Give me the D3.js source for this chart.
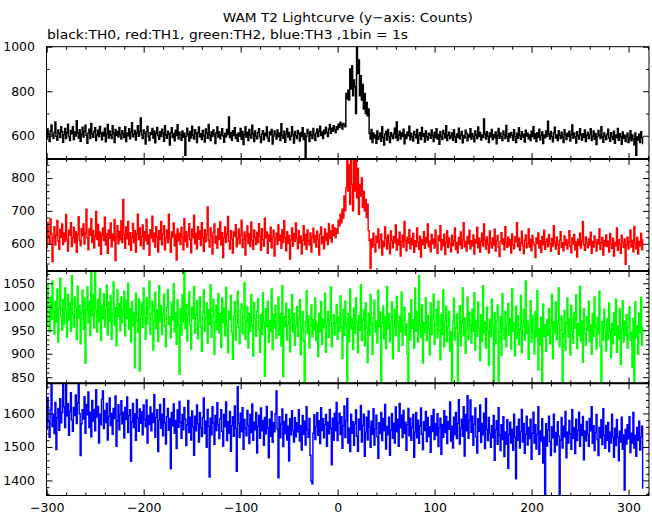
<!DOCTYPE html>
<html><head><meta charset="utf-8">
<script src="https://cdn.jsdelivr.net/npm/d3@7"></script>
<style>
body{margin:0;background:#fff}
svg{display:block;background:#fff}
</style>
</head><body><svg id="chart" width="652" height="515"></svg>
<script>
// ---- data (1 s bins, first bin at t = -300 s) ----
const xStart = -300;
const th0 = [585,630,607,574,621,648,603,589,615,662,597,580,626,611,592,640,618,571,
605,633,587,614,652,596,578,624,609,641,583,617,599,668,612,590,627,575,606,638,
594,620,647,601,566,613,629,588,655,608,593,619,636,579,604,625,597,642,611,582,
616,599,634,573,608,651,590,621,603,587,645,612,570,628,601,619,594,637,606,585,
623,609,592,640,574,613,600,631,586,617,659,595,607,624,581,613,645,598,620,680,
604,588,626,611,563,619,642,597,578,615,606,633,590,622,568,610,637,601,584,618,
596,629,612,575,645,603,589,620,607,558,614,636,592,610,577,625,601,649,586,616,
604,580,622,593,611,512,598,634,607,576,619,590,643,602,585,627,611,570,615,639,
595,609,583,624,600,572,630,613,589,651,604,578,618,597,626,607,565,612,639,594,
617,586,603,632,599,571,611,595,628,606,684,592,614,580,623,601,636,588,607,575,
612,598,633,584,619,561,605,640,593,616,579,628,603,590,647,609,574,621,598,586,
614,631,595,569,608,623,582,611,600,639,590,575,617,604,628,563,599,621,608,585,
626,596,612,578,654,601,589,620,571,607,633,594,615,582,598,641,606,567,619,600,
587,624,609,576,615,596,636,583,610,503,597,628,612,574,619,601,588,633,605,579,
612,630,596,620,643,601,617,588,625,609,638,614,597,629,651,611,634,620,645,626,
615,640,628,652,637,661,648,630,655,650,640,790,765,805,760,900,810,915,780,850,
820,700,1000,880,940,780,870,760,830,720,790,700,750,690,720,610,585,628,570,612,
590,603,566,621,584,597,612,575,640,593,558,607,619,581,628,596,570,614,600,587,
609,634,591,662,578,603,620,585,612,597,629,564,606,588,617,600,643,582,611,594,
576,619,605,590,628,566,601,614,583,637,598,609,572,622,595,581,611,603,589,626,
600,574,615,592,631,585,606,562,618,597,583,624,609,590,645,578,602,616,587,599,
612,580,627,595,571,608,593,634,586,603,619,568,601,590,625,611,577,606,594,632,
584,610,597,573,621,602,588,639,596,615,581,604,592,675,607,585,618,598,570,612,
595,628,583,606,591,617,564,600,633,589,612,596,578,621,604,587,646,598,575,610,
592,615,603,580,627,596,569,611,589,636,601,584,618,594,607,572,625,599,611,586,
603,578,620,597,641,588,609,574,614,593,629,582,600,617,565,604,591,622,598,665,
607,585,619,596,573,612,638,590,604,579,623,601,588,616,594,570,627,603,583,611,
597,620,576,606,648,589,613,595,567,618,600,585,631,604,580,609,592,626,574,602,
615,588,605,632,579,598,621,584,610,561,596,624,603,587,640,594,571,612,599,583,
606,629,590,575,614,597,583,620,566,604,591,633,580,609,595,562,617,588,602,574,
598,611,569,590,623,577,603,585,560,612,512,594,581,607,570,618,592,565];

const th1 = [588,665,623,600,676,631,545,618,652,596,627,671,609,583,644,620,660,598,
633,607,689,615,578,641,626,664,592,619,650,603,637,574,628,682,611,595,646,624,
660,599,631,705,617,582,645,626,676,604,640,587,622,698,613,659,594,636,568,627,
648,610,681,596,630,571,642,617,663,591,629,610,674,549,621,655,600,638,612,670,
604,735,628,586,651,615,668,597,634,580,620,662,603,640,575,629,690,612,648,595,
622,657,584,637,610,675,599,627,565,643,618,684,606,633,590,652,621,575,640,613,
668,597,629,655,582,618,642,603,690,615,574,636,620,663,594,628,551,645,609,632,
598,650,621,582,676,607,637,590,625,661,612,573,644,618,687,600,631,585,652,614,
639,595,664,620,577,643,606,628,712,611,590,648,624,569,635,660,602,622,587,646,
613,667,596,634,558,619,651,604,629,683,608,584,640,615,572,637,622,658,591,616,
645,600,627,672,589,613,636,566,624,654,601,630,592,666,610,583,642,619,598,635,
604,661,623,580,646,612,593,678,618,636,571,627,608,650,588,620,641,563,615,632,
598,657,611,626,586,643,604,670,619,579,637,601,625,554,612,648,593,631,608,663,
616,585,640,602,624,569,611,655,597,628,583,642,610,596,633,575,619,647,604,625,
590,638,613,566,629,651,600,622,585,645,610,632,598,661,617,640,605,657,626,648,
618,645,632,672,655,690,664,705,678,745,700,770,860,760,840,720,860,780,700,860,
760,860,740,830,690,780,745,800,710,760,700,735,680,720,640,610,525,615,590,632,
598,575,623,604,645,587,612,630,566,608,592,651,617,584,627,601,570,639,610,588,
622,603,657,581,614,596,635,563,607,626,590,668,611,579,620,602,643,585,616,597,
631,574,609,592,648,605,583,623,560,612,598,637,586,619,603,660,591,608,576,628,
600,615,587,642,596,571,624,609,655,582,613,594,629,567,605,640,589,618,601,576,
626,595,610,648,583,604,573,619,597,636,586,612,664,591,607,578,622,600,641,585,
609,594,627,569,613,602,650,588,617,575,606,632,593,660,611,584,621,598,572,639,
603,587,618,596,644,578,610,625,590,561,607,634,599,615,582,652,604,589,620,595,
612,572,630,597,585,621,606,664,592,617,580,603,638,595,570,611,627,588,601,645,
590,614,579,625,604,596,558,618,601,633,587,609,574,622,597,641,583,606,615,591,
628,600,577,616,593,655,605,584,620,598,568,611,637,589,603,579,624,596,612,585,
603,640,592,573,618,599,628,582,606,560,614,595,632,587,609,668,597,580,621,602,
588,615,596,635,571,607,590,624,604,578,612,599,645,583,603,619,566,610,594,627,
592,608,575,631,600,586,617,563,604,594,648,580,612,598,571,626,603,589,615,538,
597,620,584,606,642,590,611,576,653,600,585,619,569,607,594,631,582,612];

const th2 = [958,1048,1001,947,1020,973,1055,990,942,1012,968,1038,925,996,1061,979,950,1015,
962,1040,993,935,1026,971,1009,948,1066,984,957,1021,999,930,1044,976,1003,921,988,1035,
952,1018,880,994,1042,966,1012,939,1080,981,1027,955,1080,992,946,1016,968,1039,928,1004,
975,1028,957,995,1046,940,1010,969,1024,931,987,1053,961,998,917,1036,979,1007,949,1021,
966,992,1033,938,1014,975,1050,952,996,925,1011,960,988,870,1029,971,945,1017,863,983,
1008,956,1040,977,931,1019,964,997,1055,942,985,1012,908,970,1031,953,994,926,1045,968,
1002,941,983,1027,959,915,998,1037,962,979,934,1010,972,1049,947,988,920,1015,961,856,
996,940,1025,968,1080,953,1005,927,984,1032,961,910,999,975,1043,944,982,1013,932,970,
1021,957,905,989,1036,948,976,1008,923,993,962,1047,935,980,1016,899,967,1003,951,1028,
944,985,913,1019,966,997,938,1041,959,902,991,973,1024,946,888,980,1011,929,965,1033,
957,921,994,1006,943,978,1052,931,969,1000,912,985,948,1026,960,895,1009,974,937,990,
1017,952,903,983,941,1030,966,852,996,958,1012,925,971,947,1038,909,984,955,1003,933,
968,1021,940,986,917,1045,851,979,958,1007,929,962,995,904,973,1026,946,985,918,961,
1000,937,975,1015,898,955,990,927,838,968,1034,944,981,912,960,1004,936,973,951,1019,
928,965,894,986,947,1011,920,974,956,1029,903,962,990,935,971,1042,915,958,983,940,
966,1005,931,978,948,1023,957,890,994,939,1012,962,838,985,926,1038,953,975,909,997,
944,1019,967,902,981,950,1047,928,972,993,917,1008,955,881,986,940,1026,963,899,977,
1014,946,970,923,1035,958,989,836,965,1001,932,979,911,1043,952,984,926,968,1010,890,
957,995,938,1022,963,905,980,947,1031,918,971,999,940,964,900,838,986,929,1015,954,
973,912,1040,948,990,925,1066,961,935,1004,880,967,945,1019,928,982,953,898,1008,941,
975,1027,920,961,994,934,1012,950,887,983,942,1036,915,969,1001,926,958,990,906,947,
836,970,1018,929,955,984,838,943,1002,917,965,1040,938,976,901,952,1021,931,988,960,
923,995,948,1030,908,971,937,1010,955,885,983,926,1045,944,967,912,999,950,876,973,
936,1016,958,836,988,921,969,1004,838,947,979,896,1028,953,931,990,915,962,1007,940,
975,910,1038,948,966,895,1001,933,981,919,952,1024,902,960,994,929,1055,943,971,888,
958,1013,925,982,946,900,990,936,1034,866,954,918,978,836,1006,937,962,905,973,940,
996,921,958,1027,890,969,944,1010,930,963,1040,915,951,980,836,942,992,908,965,1019,
935,975,897,1003,948,922,988,954,1025,911,964,938,1044,927,970,882,996,943,918,979,
950,1012,926,961,899,985,937,1021,958,910,977,944,1033,917,838,968,929,995,952,906,
974,930,1008,947,892,965,921,988,940,1016,903,959,932,996,877,951,1013,925,969,938,
983,912,956,1000,928,946,871,975,838,1011,934,960,899,987,944,1020,918,957];

const th3 = [1553,1648,1576,1529,1612,1688,1561,1598,1540,1633,1492,1587,1615,1550,1644,1572,1603,1688,
1620,1558,1688,1592,1629,1535,1606,1662,1580,1547,1618,1594,1655,1570,1632,1688,1599,1474,1569,1611,
1583,1650,1541,1627,1596,1664,1558,1604,1530,1639,1577,1612,1548,1671,1589,1621,1512,1598,1566,1642,
1667,1555,1609,1573,1630,1521,1591,1646,1564,1600,1538,1615,1585,1652,1502,1578,1626,1551,1597,1638,
1569,1604,1527,1618,1582,1649,1543,1593,1611,1457,1575,1630,1558,1599,1520,1642,1586,1547,1613,1571,
1605,1536,1625,1582,1560,1640,1512,1594,1567,1619,1548,1601,1573,1656,1529,1588,1611,1486,1580,1627,
1556,1598,1533,1644,1572,1509,1590,1615,1550,1585,1435,1603,1563,1628,1541,1579,1495,1610,1559,1636,
1574,1526,1597,1551,1618,1583,1504,1566,1639,1543,1589,1521,1607,1560,1475,1592,1548,1625,1569,1515,
1603,1557,1531,1588,1646,1540,1577,1499,1612,1562,1410,1586,1536,1620,1571,1508,1594,1549,1632,1566,
1525,1584,1611,1547,1503,1598,1560,1634,1519,1575,1541,1606,1487,1563,1590,1532,1622,1555,1427,1680,
1570,1528,1601,1546,1617,1493,1582,1556,1533,1609,1564,1510,1597,1543,1628,1520,1574,1551,1603,1482,
1561,1595,1526,1616,1548,1579,1505,1588,1539,1621,1557,1468,1583,1532,1606,1514,1572,1545,1599,1667,
1554,1408,1590,1527,1568,1613,1501,1576,1540,1597,1521,1562,1458,1584,1536,1608,1549,1515,1587,1530,
1572,1545,1611,1518,1563,1491,1594,1538,1577,1506,1620,1552,1529,1585,1475,1398,1390,1541,1596,1522,
1560,1602,1535,1578,1510,1617,1549,1584,1527,1566,1597,1502,1574,1539,1612,1555,1447,1586,1520,1601,
1548,1633,1519,1572,1601,1537,1590,1496,1563,1622,1528,1579,1645,1512,1556,1486,1598,1541,1575,1505,
1569,1610,1532,1487,1583,1551,1624,1515,1565,1598,1472,1543,1589,1521,1607,1560,1499,1577,1538,1614,
1506,1554,1595,1530,1466,1572,1540,1603,1519,1585,1548,1627,1494,1561,1536,1589,1475,1550,1599,1526,
1571,1512,1619,1545,1583,1502,1630,1557,1595,1528,1609,1541,1574,1490,1566,1615,1533,1586,1520,1558,
1597,1469,1544,1603,1527,1580,1511,1563,1616,1538,1492,1575,1549,1606,1516,1588,1531,1560,1484,1593,
1546,1612,1522,1570,1535,1599,1501,1557,1586,1478,1567,1529,1608,1543,1591,1510,1576,1553,1634,1518,
1562,1497,1589,1537,1603,1525,1571,1641,1509,1556,1583,1532,1620,1473,1597,1548,1653,1526,1579,1640,
1544,1592,1505,1568,1616,1530,1482,1584,1547,1625,1513,1570,1536,1601,1495,1645,1552,1519,1588,1541,
1499,1563,1527,1594,1460,1551,1578,1508,1617,1535,1489,1566,1522,1590,1471,1545,1508,1581,1436,1537,
1574,1512,1553,1490,1598,1529,1405,1561,1520,1583,1497,1546,1612,1515,1570,1481,1539,1592,1506,1558,
1525,1583,1463,1541,1604,1512,1566,1494,1537,1620,1478,1548,1518,1584,1452,1530,1356,1569,1503,1551,
1592,1516,1474,1560,1527,1598,1485,1543,1506,1575,1533,1356,1521,1588,1497,1562,1530,1606,1468,1545,
1512,1579,1538,1493,1611,1526,1557,1480,1583,1519,1549,1604,1502,1567,1534,1591,1462,1548,1518,1576,
1536,1502,1585,1548,1620,1511,1563,1489,1543,1597,1522,1474,1558,1527,1581,1507,1614,1535,1496,1564,
1520,1573,1486,1545,1512,1598,1530,1469,1556,1504,1582,1528,1459,1547,1515,1589,1493,1536,1371,1552,
1509,1566,1524,1590,1483,1541,1512,1603,1497,1535,1472,1558,1520,1577,1491,1530,1562,1377];

const seriesNames = ["TH0", "TH1", "TH2", "TH3"];
const seriesColors = ["#000000", "#ff0000", "#00ff00", "#0000ff"];
const titleText = "WAM T2 Lightcurve (y\u2212axis: Counts)";
const subtitleText = "black:TH0, red:TH1, green:TH2, blue:TH3 ,1bin = 1s";
const xDomain = [-300.2, 321.1];
const xMajorTicks = [-300, -200, -100, 0, 100, 200, 300];
const yDomains = [[496, 1000], [517, 858], [837, 1076], [1355, 1690]];
const yMajorTicks = [[600, 800, 1000], [600, 700, 800], [850, 900, 950, 1000, 1050], [1400, 1500, 1600]];
const yMinorStep = [100, 20, 10, 20];

// ---- layout ----
const FONT = "'DejaVu Sans', 'Liberation Sans', sans-serif";
const plotL = 46.5, plotR = 649, plotT = 46.7, panelH = 112.2;
const svg = d3.select("#chart");
svg.append("rect").attr("width", 652).attr("height", 515).attr("fill", "#fff");

const x = d3.scaleLinear().domain(xDomain).range([plotL, plotR]);
const allSeries = [th0, th1, th2, th3];

svg.append("text").attr("x", (plotL + plotR) / 2).attr("y", 21.5)
  .attr("text-anchor", "middle").attr("font-family", FONT).attr("font-size", 13)
  .attr("textLength", 250).attr("lengthAdjust", "spacingAndGlyphs")
  .text(titleText);
svg.append("text").attr("x", 47).attr("y", 38.5)
  .attr("font-family", FONT).attr("font-size", 13)
  .attr("textLength", 361).attr("lengthAdjust", "spacingAndGlyphs")
  .text(subtitleText);

const xMinor = d3.range(-300, 321, 20);

allSeries.forEach((vals, p) => {
  const y0 = plotT + p * panelH, y1 = y0 + panelH;
  const y = d3.scaleLinear().domain(yDomains[p]).range([y1, y0]);
  const g = svg.append("g");

  const cid = "clip" + p;
  svg.append("clipPath").attr("id", cid).append("rect")
    .attr("x", plotL).attr("y", y0).attr("width", plotR - plotL).attr("height", panelH);

  const line = d3.line().x((d, i) => x(xStart + i)).y(d => y(d)).curve(d3.curveStep);
  g.append("path").datum(vals).attr("clip-path", `url(#${cid})`)
    .attr("fill", "none").attr("stroke", seriesColors[p]).attr("stroke-width", 1.45)
    .attr("stroke-linejoin", "miter").attr("d", line);

  const d0 = yDomains[p][0], d1 = yDomains[p][1], st = yMinorStep[p];
  const yMinor = d3.range(Math.ceil(d0 / st) * st, d1 + 0.001, st)
    .filter(v => !yMajorTicks[p].includes(v));

  const style = sel => {
    sel.select(".domain").remove();
    sel.selectAll("line").attr("stroke", "#000").attr("stroke-width", 1);
    sel.selectAll("text").attr("font-family", FONT).attr("font-size", 12.5).attr("fill", "#000");
  };

  // left axis (labels) + minor
  g.append("g").attr("transform", `translate(${plotL},0)`)
    .call(d3.axisLeft(y).tickValues(yMajorTicks[p]).tickSize(-6).tickPadding(11.5).tickFormat(d3.format("d")))
    .call(style);
  g.append("g").attr("transform", `translate(${plotL},0)`)
    .call(d3.axisLeft(y).tickValues(yMinor).tickSize(-3).tickFormat(""))
    .call(style);
  // right axis
  g.append("g").attr("transform", `translate(${plotR},0)`)
    .call(d3.axisRight(y).tickValues(yMajorTicks[p]).tickSize(-6).tickFormat(""))
    .call(style);
  g.append("g").attr("transform", `translate(${plotR},0)`)
    .call(d3.axisRight(y).tickValues(yMinor).tickSize(-3).tickFormat(""))
    .call(style);
  // top & bottom x ticks
  const xMin = xMinor.filter(v => !xMajorTicks.includes(v));
  g.append("g").attr("transform", `translate(0,${y0})`)
    .call(d3.axisTop(x).tickValues(xMajorTicks).tickSize(-6).tickFormat(""))
    .call(style);
  g.append("g").attr("transform", `translate(0,${y0})`)
    .call(d3.axisTop(x).tickValues(xMin).tickSize(-3).tickFormat(""))
    .call(style);
  const bottom = d3.axisBottom(x).tickValues(xMajorTicks).tickSize(-6)
    .tickFormat(p === 3 ? d3.format("d") : "").tickPadding(7.5);
  g.append("g").attr("transform", `translate(0,${y1})`).call(bottom).call(style);
  g.append("g").attr("transform", `translate(0,${y1})`)
    .call(d3.axisBottom(x).tickValues(xMin).tickSize(-3).tickFormat(""))
    .call(style);

  // frame
  g.append("rect").attr("x", plotL).attr("y", y0).attr("width", plotR - plotL).attr("height", panelH)
    .attr("fill", "none").attr("stroke", "#000").attr("stroke-width", 1);
  if (p > 0) {
    g.append("line").attr("x1", plotL).attr("x2", plotR).attr("y1", y0).attr("y2", y0)
      .attr("stroke", "#000").attr("stroke-width", 2);
  }
});
</script>
</body></html>
